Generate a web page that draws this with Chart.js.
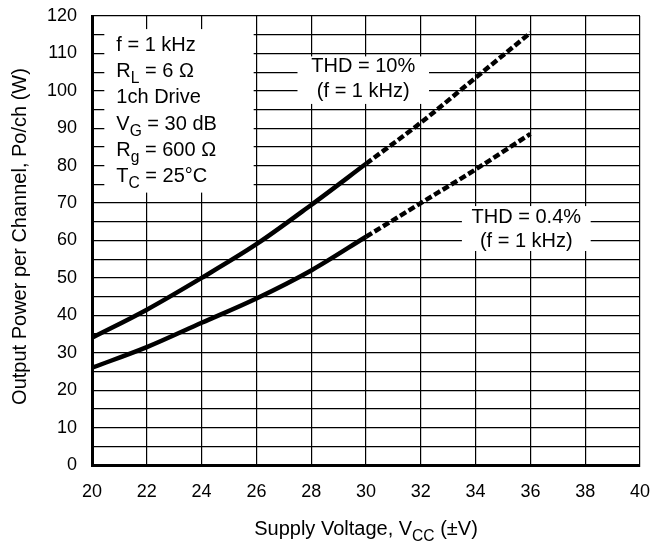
<!DOCTYPE html>
<html>
<head>
<meta charset="utf-8">
<script src="https://cdn.jsdelivr.net/npm/chart.js@4.4.1/dist/chart.umd.min.js"></script>
<style>
  html, body { margin: 0; padding: 0; background: #fff; }
  #chart-box { width: 650px; height: 546px; }
</style>
</head>
<body>
<div id="chart-box"><canvas id="chart-item" width="650" height="546"></canvas></div>
<script>
// Data
var supplyVoltage = [20, 22, 24, 26, 28, 30, 32, 34, 36]
var powerThd10 = [34, 41.5, 50, 59, 69.5, 80.5, 91.5, 103.5, 115.5]
var powerThd04 = [26, 31.5, 38, 44.5, 52, 61, 70, 79, 88.5]
var xTicks = [20, 22, 24, 26, 28, 30, 32, 34, 36, 38, 40]
var yTicks = [0, 10, 20, 30, 40, 50, 60, 70, 80, 90, 100, 110, 120]
var dashedFrom = 30

var FONT = "'Liberation Sans', Arial, Helvetica, sans-serif"

function toPoints(xs, ys) {
    return xs.map(function (x, i) {
        return { x: x, y: ys[i] }
    })
}

function dashAfter(ctx) {
    return ctx.p0.parsed.x >= dashedFrom ? [7, 3] : undefined
}

// draws a line of text made of normal / subscript pieces
function drawRich(c, parts, x, y, size, align) {
    var total = 0
    parts.forEach(function (p) {
        c.font = (p.sub ? size * 0.78 : size) + 'px ' + FONT
        p.w = c.measureText(p.t).width
        total += p.w
    })
    var cx = align === 'center' ? x - total / 2 : x
    c.textAlign = 'left'
    c.textBaseline = 'alphabetic'
    parts.forEach(function (p) {
        c.font = (p.sub ? size * 0.78 : size) + 'px ' + FONT
        c.fillText(p.t, cx, p.sub ? y + size * 0.3 : y)
        cx += p.w
    })
}

var notes = [
    {
        box: [20.45, 25.9, 116.5, 72.8], align: 'left', dx: 12, top: 22, gap: 26.2,
        lines: [
            [{ t: 'f = 1 kHz' }],
            [{ t: 'R' }, { t: 'L', sub: true }, { t: ' = 6 \u03A9' }],
            [{ t: '1ch Drive' }],
            [{ t: 'V' }, { t: 'G', sub: true }, { t: ' = 30 dB' }],
            [{ t: 'R' }, { t: 'g', sub: true }, { t: ' = 600 \u03A9' }],
            [{ t: 'T' }, { t: 'C', sub: true }, { t: ' = 25\u00B0C' }]
        ]
    },
    {
        box: [27.5, 32.3, 109.2, 96.5], align: 'center', top: 16, gap: 25,
        lines: [[{ t: 'THD = 10%' }], [{ t: '(f = 1 kHz)' }]]
    },
    {
        box: [33.5, 38.2, 69.2, 57.2], align: 'center', top: 17, gap: 24,
        lines: [[{ t: 'THD = 0.4%' }], [{ t: '(f = 1 kHz)' }]]
    }
]

var notesPlugin = {
    id: 'notes',
    beforeDatasetsDraw: function (chart) {
        var c = chart.ctx
        var xs = chart.scales.x
        var ys = chart.scales.y
        c.save()
        notes.forEach(function (n) {
            var x0 = xs.getPixelForValue(n.box[0])
            var x1 = xs.getPixelForValue(n.box[1])
            var y0 = ys.getPixelForValue(n.box[2])
            var y1 = ys.getPixelForValue(n.box[3])
            c.fillStyle = '#fff'
            c.fillRect(x0, y0, x1 - x0, y1 - y0)
            c.fillStyle = '#000'
            n.lines.forEach(function (line, i) {
                var tx = n.align === 'center' ? (x0 + x1) / 2 : x0 + n.dx
                drawRich(c, line, tx, y0 + n.top + i * n.gap, 20, n.align)
            })
        })
        c.restore()
    },
    afterDraw: function (chart) {
        var c = chart.ctx
        var a = chart.chartArea
        c.save()
        c.fillStyle = '#000'
        drawRich(c, [{ t: 'Supply Voltage, V' }, { t: 'CC', sub: true }, { t: ' (\u00B1V)' }],
            (a.left + a.right) / 2, 535, 20, 'center')
        c.translate(26, (a.top + a.bottom) / 2 - 4)
        c.rotate(-Math.PI / 2)
        drawRich(c, [{ t: 'Output Power per Channel, Po/ch (W)' }], 0, 0, 20, 'center')
        c.restore()
    }
}

function noPad(s) {
    s.paddingLeft = 0
    s.paddingRight = 0
    s.paddingTop = 0
    s.paddingBottom = 0
}

const ctx = document.getElementById('chart-item').getContext('2d')
const myChart = new Chart(ctx, {
    type: 'line',
    data: {
        datasets: [{
            label: 'THD = 10%',
            data: toPoints(supplyVoltage, powerThd10),
            borderColor: '#000',
            borderWidth: 4.5,
            pointRadius: 0,
            cubicInterpolationMode: 'monotone',
            segment: { borderDash: dashAfter }
        }, {
            label: 'THD = 0.4%',
            data: toPoints(supplyVoltage, powerThd04),
            borderColor: '#000',
            borderWidth: 4.5,
            pointRadius: 0,
            cubicInterpolationMode: 'monotone',
            segment: { borderDash: dashAfter }
        }]
    },
    options: {
        responsive: false,
        animation: false,
        layout: { padding: { top: 16, right: 10, left: 0, bottom: 0 } },
        plugins: { legend: { display: false }, tooltip: { enabled: false } },
        scales: {
            x: {
                type: 'linear',
                min: 20,
                max: 40,
                afterBuildTicks: function (s) {
                    s.ticks = xTicks.map(function (v) { return { value: v } })
                },
                afterFit: function (s) { s.height = 81; noPad(s) },
                grid: { color: '#000', lineWidth: 1.2, drawTicks: false },
                border: { color: '#000', width: 3 },
                ticks: { color: '#000', padding: 16, maxRotation: 0, autoSkip: false, font: { family: FONT, size: 18 } }
            },
            y: {
                min: 0,
                max: 120,
                afterBuildTicks: function (s) {
                    var t = []
                    for (var v = 0; v <= 120; v += 5) t.push({ value: v })
                    s.ticks = t
                },
                afterFit: function (s) { s.width = 92; noPad(s) },
                grid: { color: '#000', lineWidth: 1.2, drawTicks: false },
                border: { color: '#000', width: 3 },
                ticks: {
                    color: '#000',
                    padding: 15,
                    autoSkip: false,
                    font: { family: FONT, size: 18 },
                    callback: function (v) { return yTicks.indexOf(v) >= 0 ? v : '' }
                }
            }
        }
    },
    plugins: [notesPlugin]
})
</script>
</body>
</html>
